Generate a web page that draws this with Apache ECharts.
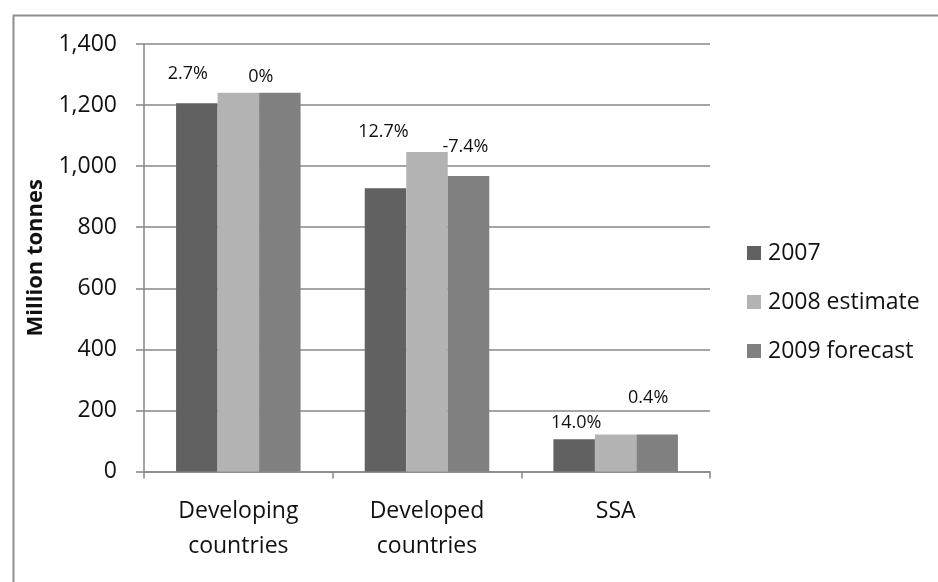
<!DOCTYPE html>
<html>
<head>
<meta charset="utf-8">
<script src="https://cdn.jsdelivr.net/npm/echarts@6/dist/echarts.min.js"></script>
<style>
  html, body { margin: 0; padding: 0; background: #ffffff; }
  #chart { width: 938px; height: 582px; }
</style>
</head>
<body>
<div id="chart"></div>
<script>
// Cereal production by region, million tonnes
const categories = ['Developing\ncountries', 'Developed\ncountries', 'SSA'];
const seriesNames = ['2007', '2008 estimate', '2009 forecast'];
const values2007 = [1206, 928, 106];
const values2008 = [1240, 1046, 121];
const values2009 = [1240, 968, 121.5];
// Year-on-year change: 2007→2008 and 2008→2009
const change0708 = ['2.7%', '12.7%', '14.0%'];
const change0809 = ['0%', '-7.4%', '0.4%'];
const yTicks = [0, 200, 400, 600, 800, 1000, 1200, 1400];

const FONT = '"Open Sans", "Noto Sans", sans-serif';
const AXIS_GREY = '#878787';

// Where each change label sits relative to the top of its bar
const nudge0708 = [[-9, -15], [-2, -42], [2, -2]];
const nudge0809 = [[-19, -2], [-3, -15], [-9, -23]];

function withLabels(values, texts, nudges) {
  return values.map((v, i) => ({
    value: v,
    label: {
      show: true,
      position: 'top',
      distance: 5,
      offset: nudges[i],
      formatter: texts[i],
      fontFamily: FONT,
      fontSize: 18,
      color: '#111111'
    }
  }));
}

const chart = echarts.init(document.getElementById('chart'), null, { renderer: 'canvas' });

chart.setOption({
  animation: false,
  backgroundColor: '#ffffff',
  color: ['#616161', '#b3b3b3', '#808080'],
  graphic: [{
    type: 'rect',
    left: 11,
    top: 13,
    shape: { width: 1000, height: 1000 },
    style: { fill: 'none', stroke: '#8e8e8e', lineWidth: 2 },
    silent: true,
    z: -1
  }],
  grid: { left: 144, right: 228, top: 44, bottom: 110.5, containLabel: false },
  legend: {
    orient: 'vertical',
    left: 747,
    top: 237,
    padding: 0,
    itemWidth: 14,
    itemHeight: 14,
    itemGap: 17,
    icon: 'rect',
    textStyle: { fontFamily: FONT, fontSize: 23, color: '#111111', lineHeight: 32, padding: [0, 0, 0, 2] },
    data: seriesNames
  },
  xAxis: {
    type: 'category',
    data: categories,
    axisLine: { lineStyle: { color: AXIS_GREY, width: 1.5 } },
    axisTick: { show: true, length: 7, alignWithLabel: false, lineStyle: { color: AXIS_GREY, width: 1.5 } },
    axisLabel: { margin: 22, fontFamily: FONT, fontSize: 23, color: '#111111', lineHeight: 35 }
  },
  yAxis: {
    type: 'value',
    min: 0,
    max: 1400,
    interval: 200,
    name: 'Million tonnes',
    nameLocation: 'middle',
    nameGap: 97,
    nameRotate: 90,
    nameTextStyle: { fontFamily: FONT, fontSize: 22, fontWeight: 'bold', color: '#111111' },
    axisLine: { show: true, lineStyle: { color: AXIS_GREY, width: 1.5 } },
    axisTick: { show: true, length: 8, lineStyle: { color: AXIS_GREY, width: 1.5 } },
    axisLabel: {
      margin: 27,
      fontFamily: FONT,
      fontSize: 23,
      color: '#111111',
      formatter: v => yTicks.includes(v) ? v.toLocaleString('en-US') : ''
    },
    splitLine: { show: true, lineStyle: { color: AXIS_GREY, width: 1.5 } }
  },
  series: [
    {
      name: seriesNames[0], type: 'bar', barGap: '0%', barCategoryGap: '34%',
      data: withLabels(values2007, change0708, nudge0708)
    },
    {
      name: seriesNames[1], type: 'bar', barGap: '0%', barCategoryGap: '34%',
      data: values2008
    },
    {
      name: seriesNames[2], type: 'bar', barGap: '0%', barCategoryGap: '34%',
      data: withLabels(values2009, change0809, nudge0809)
    }
  ]
});
</script>
</body>
</html>
